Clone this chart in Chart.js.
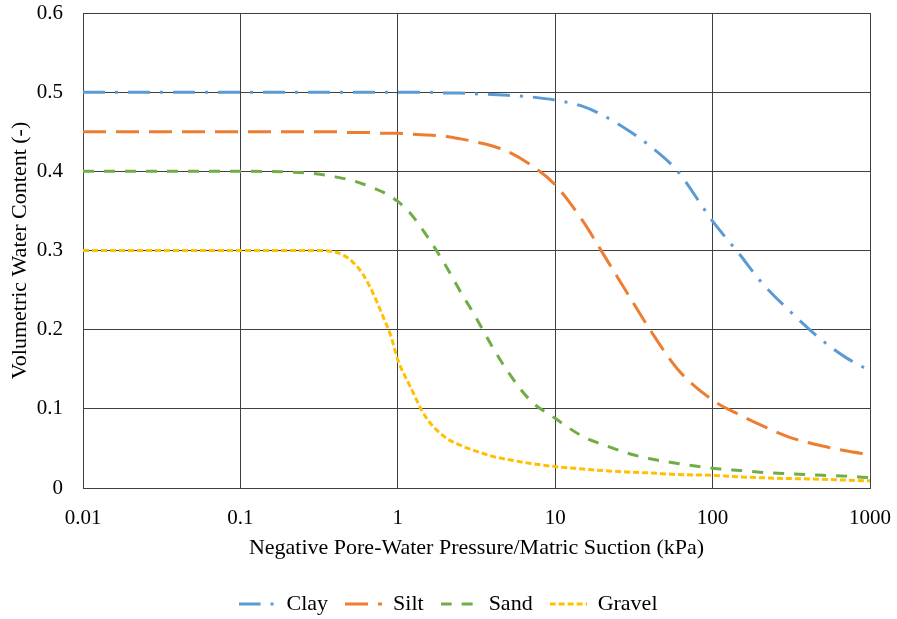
<!DOCTYPE html>
<html>
<head>
<meta charset="utf-8">
<script src="https://cdn.jsdelivr.net/npm/chart.js@4/dist/chart.umd.min.js"></script>
<style>
  html, body { margin: 0; padding: 0; background: #fff; }
  #wrap { width: 897px; height: 619px; }
</style>
</head>
<body>
<div id="wrap"><canvas id="chart"></canvas></div>
<script>
// matric suction (kPa) at which the curves were read
const suction = [0.01, 0.1, 0.3, 0.4, 0.5, 0.6, 0.7, 0.8, 0.9, 1, 1.2, 1.5, 2, 2.5, 3, 4, 5, 7,
  10, 15, 20, 30, 40, 60, 100, 150, 200, 300, 500, 700, 1000];

// volumetric water content (-)
const clay = [0.5, 0.5, 0.5, 0.5, 0.5, 0.5, 0.5, 0.5, 0.5, 0.5, 0.5, 0.5, 0.499, 0.499, 0.498, 0.497, 0.496, 0.494,
  0.49, 0.482, 0.471, 0.45, 0.432, 0.4, 0.337, 0.294, 0.262, 0.226, 0.186, 0.165, 0.148];
const silt = [0.45, 0.45, 0.45, 0.45, 0.449, 0.449, 0.449, 0.448, 0.448, 0.448, 0.447, 0.446, 0.444, 0.441, 0.438, 0.432, 0.425, 0.408,
  0.383, 0.337, 0.297, 0.24, 0.2, 0.15, 0.111, 0.092, 0.08, 0.065, 0.053, 0.047, 0.042];
const sand = [0.4, 0.4, 0.397, 0.393, 0.389, 0.384, 0.379, 0.374, 0.368, 0.362, 0.347, 0.321, 0.282, 0.248, 0.222, 0.178, 0.147, 0.11,
  0.088, 0.065, 0.055, 0.043, 0.037, 0.031, 0.025, 0.022, 0.02, 0.018, 0.016, 0.015, 0.013];
const gravel = [0.3, 0.3, 0.3, 0.298, 0.288, 0.27, 0.245, 0.218, 0.193, 0.162, 0.128, 0.09, 0.064, 0.054, 0.048, 0.04, 0.036, 0.031,
  0.027, 0.024, 0.022, 0.02, 0.019, 0.017, 0.016, 0.014, 0.013, 0.012, 0.011, 0.01, 0.009];

const xTicks = [0.01, 0.1, 1, 10, 100, 1000];

const serif = "'Liberation Serif', 'Times New Roman', serif";
const gridColor = '#3f3f3f';
const sampleWidth = 37;

function series(label, values, color, dash) {
  return {
    label,
    data: suction.map((s, i) => ({ x: s, y: values[i] })),
    borderColor: color,
    backgroundColor: 'rgba(0,0,0,0)',
    borderWidth: 3,
    borderDash: dash,
    pointRadius: 0,
    cubicInterpolationMode: 'monotone',
    fill: false
  };
}

// little dashed stroke used as the legend marker (the built-in line style ignores dashes)
function lineSample(color, dash) {
  const c = document.createElement('canvas');
  c.width = sampleWidth;
  c.height = 4;
  const ctx = c.getContext('2d');
  ctx.strokeStyle = color;
  ctx.lineWidth = 3;
  ctx.setLineDash(dash);
  ctx.beginPath();
  ctx.moveTo(0, 2);
  ctx.lineTo(sampleWidth, 2);
  ctx.stroke();
  return c;
}

// the legend adds 10px below its row; drop it so the row sits lower,
// and centre the row on the whole canvas rather than the padded area
const legendTweak = {
  id: 'legendTweak',
  beforeInit(chart) {
    const fit = chart.legend.fit;
    chart.legend.fit = function () {
      fit.call(this);
      this.height -= 10;
    };
  },
  afterLayout(chart) {
    chart.legend.left += 13;
    chart.legend.right += 13;
  }
};

new Chart(document.getElementById('chart'), {
  type: 'line',
  data: {
    datasets: [
      series('Clay', clay, '#5B9BD5', [22, 10, 3, 10]),
      series('Silt', silt, '#ED7D31', [23, 10]),
      series('Sand', sand, '#70AD47', [11, 10]),
      series('Gravel', gravel, '#FFC000', [6, 3])
    ]
  },
  plugins: [legendTweak],
  options: {
    responsive: true,
    maintainAspectRatio: false,
    animation: false,
    layout: { padding: { top: 13, right: 27, bottom: 4, left: 0 } },
    plugins: {
      tooltip: { enabled: false },
      legend: {
        position: 'bottom',
        labels: {
          color: '#000',
          font: { family: serif, size: 22 },
          usePointStyle: true,
          pointStyleWidth: sampleWidth,
          padding: 17,
          generateLabels(chart) {
            const items = Chart.defaults.plugins.legend.labels.generateLabels(chart);
            items.forEach(item => {
              const ds = chart.data.datasets[item.datasetIndex];
              item.pointStyle = lineSample(ds.borderColor, ds.borderDash);
            });
            return items;
          }
        }
      }
    },
    scales: {
      x: {
        type: 'logarithmic',
        min: 0.01,
        max: 1000,
        afterBuildTicks: (scale) => { scale.ticks = xTicks.map(v => ({ value: v })); },
        afterFit: (scale) => { scale.height = 88; },
        ticks: {
          color: '#000',
          font: { family: serif, size: 21 },
          padding: 0,
          maxRotation: 0,
          autoSkip: false,
          callback: (v) => String(v)
        },
        grid: { color: gridColor, lineWidth: 1, drawTicks: true, tickLength: 18, tickColor: 'rgba(0,0,0,0)' },
        border: { color: gridColor, width: 1 },
        title: {
          display: true,
          text: 'Negative Pore-Water Pressure/Matric Suction (kPa)',
          color: '#000',
          font: { family: serif, size: 22 },
          padding: { top: 0, bottom: 15 }
        }
      },
      y: {
        min: 0,
        max: 0.6,
        afterFit: (scale) => { scale.width = 83; },
        ticks: {
          stepSize: 0.1,
          color: '#000',
          font: { family: serif, size: 21 },
          padding: 0,
          callback: (v) => String(Math.round(v * 10) / 10)
        },
        grid: { color: gridColor, lineWidth: 1, drawTicks: true, tickLength: 20, tickColor: 'rgba(0,0,0,0)' },
        border: { color: gridColor, width: 1 },
        title: {
          display: true,
          text: 'Volumetric Water Content (-)',
          color: '#000',
          font: { family: serif, size: 22 },
          padding: { top: 7, bottom: 0 }
        }
      }
    }
  }
});
</script>
</body>
</html>
